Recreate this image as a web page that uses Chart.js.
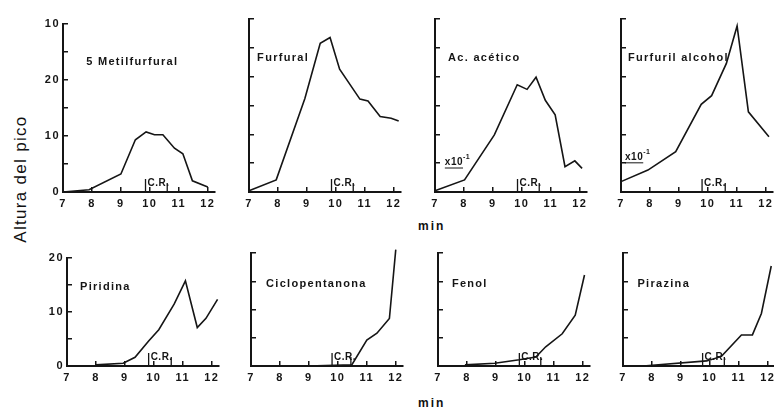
<!doctype html>
<html lang="es">
<head>
<meta charset="utf-8">
<title>Altura del pico</title>
<script src="https://cdn.jsdelivr.net/npm/chart.js"></script>
<style>
  html, body { margin: 0; padding: 0; background: #fff; overflow: hidden; }
  body { width: 774px; height: 412px; position: relative; font-family: "Liberation Sans", Arial, sans-serif; color: #111; }
  .panel { position: absolute; }
  .ytitle { position: absolute; left: -59px; top: 169px; width: 160px; text-align: center;
            font-size: 17px; letter-spacing: 1.3px; transform: rotate(-90deg); white-space: nowrap; }
  .min { position: absolute; font-weight: bold; font-size: 12px; letter-spacing: 2px; }
</style>
</head>
<body>
<div class="ytitle">Altura del pico</div>
<div class="min" style="left:418px; top:219px">min</div>
<div class="min" style="left:418px; top:396px">min</div>

<script>
// ticks
const xTicks = [7, 8, 9, 10, 11, 12];
const yTicksTop = [0, 5, 10, 15, 20, 25, 30];
const yLabelsTop = ['0', '', '10', '', '20', '', '10'];   // top label printed as "10" in the original
const yTicksBottom = [0, 5, 10, 15, 20];
const yLabelsBottom = ['0', '', '10', '', '20'];

// datos (min, altura)
const metilT = [7, 7.9, 9.0, 9.5, 9.87, 10.16, 10.45, 10.85, 11.14, 11.47, 12.0];
const metilV = [0, 0.4, 3.2, 9.3, 10.7, 10.2, 10.2, 7.8, 6.8, 2.0, 0.9];

const furfuralT = [7, 7.94, 8.93, 9.46, 9.8, 10.13, 10.83, 11.11, 11.53, 11.91, 12.17];
const furfuralV = [0.2, 2.1, 16.2, 25.8, 26.8, 21.3, 16.1, 15.8, 13.1, 12.8, 12.3];

const aceticoT = [7, 8.02, 9.05, 9.84, 10.18, 10.49, 10.81, 11.15, 11.49, 11.83, 12.08];
const aceticoV = [0.2, 2.1, 9.9, 18.6, 17.8, 19.9, 15.9, 13.4, 4.4, 5.4, 4.1];

const alcoholT = [7, 7.93, 8.89, 9.77, 10.13, 10.64, 11.01, 11.4, 12.11];
const alcoholV = [1.8, 3.8, 7.0, 15.2, 16.7, 22.3, 28.8, 13.9, 9.6];

const piridinaT = [8.0, 8.94, 9.35, 9.82, 10.17, 10.7, 11.09, 11.5, 11.8, 12.2];
const piridinaV = [0.2, 0.5, 1.6, 4.6, 6.7, 11.4, 15.7, 7.1, 8.8, 12.3];

const cicloT = [9.27, 10.48, 11.0, 11.35, 11.78, 12.0];
const cicloV = [0.05, 0.2, 4.6, 5.8, 8.4, 20.6];

const fenolT = [7.93, 8.96, 9.81, 10.38, 10.72, 11.29, 11.74, 12.06];
const fenolV = [0.2, 0.5, 1.1, 1.6, 3.4, 5.7, 9.0, 16.1];

const pirazinaT = [7.7, 9.89, 10.4, 11.09, 11.47, 11.78, 12.12];
const pirazinaV = [0, 0.9, 1.7, 5.5, 5.5, 9.3, 17.7];

const ink = '#151515';

const panels = [
  { name: '5 Metilfurfural', t: metilT, v: metilV, label: [7.8, 23.2], cr: [9.85, 10.6] },
  { name: 'Furfural', t: furfuralT, v: furfuralV, label: [7.28, 23.2], cr: [9.85, 10.6] },
  { name: 'Ac. acético', t: aceticoT, v: aceticoV, label: [7.45, 23.2], cr: [9.85, 10.6], exp: [7.34, 5.2] },
  { name: 'Furfuril alcohol', t: alcoholT, v: alcoholV, label: [7.24, 23.2], cr: [9.8, 10.6], exp: [7.14, 6.1] },
  { name: 'Piridina', t: piridinaT, v: piridinaV, label: [7.45, 14.5], cr: [9.82, 10.6] },
  { name: 'Ciclopentanona', t: cicloT, v: cicloV, label: [7.52, 14.5], cr: [9.8, 10.45] },
  { name: 'Fenol', t: fenolT, v: fenolV, label: [7.48, 14.5], cr: [9.81, 10.55] },
  { name: 'Pirazina', t: pirazinaT, v: pirazinaV, label: [7.5, 14.5], cr: [9.75, 10.5] }
];

// layout: y axis pixel and plot top for each row
const axisX = [[63, 249, 435, 621], [67, 251, 438, 623]];
const plotTop = [19, 253];
const plotH = [173, 113];
const yAxisW = 40, plotW = 152, padR = 10, padT = 10, xAxisH = 22;

function notesPlugin(p) {
  return {
    id: 'notes',
    beforeDraw(chart) { chart.ctx.letterSpacing = '1.5px'; },
    afterDatasetsDraw(chart) {
      const { ctx } = chart;
      const x = chart.scales.x, y = chart.scales.y;
      ctx.save();
      ctx.fillStyle = ink;
      ctx.strokeStyle = ink;
      ctx.textBaseline = 'middle';
      ctx.textAlign = 'left';
      ctx.letterSpacing = '1.3px';
      ctx.font = 'bold 11px "Liberation Sans", Arial, sans-serif';
      ctx.fillText(p.name, x.getPixelForValue(p.label[0]), y.getPixelForValue(p.label[1]));

      // C.R. marks
      const y0 = y.getPixelForValue(0);
      const a = x.getPixelForValue(p.cr[0]), b = x.getPixelForValue(p.cr[1]);
      ctx.lineWidth = 1.3;
      ctx.beginPath();
      ctx.moveTo(a, y0); ctx.lineTo(a, y0 - 13);
      ctx.moveTo(b, y0); ctx.lineTo(b, y0 - 9);
      ctx.stroke();
      ctx.letterSpacing = '0.5px';
      ctx.font = 'bold 10px "Liberation Sans", Arial, sans-serif';
      ctx.fillText('C.R.', a + 2, y0 - 9);

      // x10^-1
      if (p.exp) {
        const ex = x.getPixelForValue(p.exp[0]), ey = y.getPixelForValue(p.exp[1]);
        ctx.font = 'bold 10px "Liberation Sans", Arial, sans-serif';
        ctx.fillText('x10', ex, ey);
        const w = ctx.measureText('x10').width;
        ctx.lineWidth = 1;
        ctx.beginPath(); ctx.moveTo(ex, ey + 6); ctx.lineTo(ex + w, ey + 6); ctx.stroke();
        ctx.font = 'bold 7px "Liberation Sans", Arial, sans-serif';
        ctx.fillText('-1', ex + w, ey - 5);
      }
      ctx.restore();
    }
  };
}

panels.forEach((p, i) => {
  const row = i < 4 ? 0 : 1;
  const col = i % 4;
  const yT = row === 0 ? yTicksTop : yTicksBottom;
  const yL = row === 0 ? yLabelsTop : yLabelsBottom;

  const div = document.createElement('div');
  div.className = 'panel';
  div.style.left = (axisX[row][col] - yAxisW) + 'px';
  div.style.top = (plotTop[row] - padT) + 'px';
  const cv = document.createElement('canvas');
  cv.width = yAxisW + plotW + padR;
  cv.height = padT + plotH[row] + xAxisH;
  div.appendChild(cv);
  document.body.appendChild(div);

  const tickFont = { family: '"Liberation Sans", Arial, sans-serif', weight: 'bold', size: 11 };

  new Chart(cv, {
    type: 'line',
    data: {
      datasets: [{
        data: p.t.map((t, k) => ({ x: t, y: p.v[k] })),
        borderColor: ink,
        borderWidth: 1.6,
        pointRadius: 0,
        tension: 0,
        clip: 8
      }]
    },
    options: {
      responsive: false,
      animation: false,
      layout: { padding: { top: padT, right: padR, left: 0, bottom: 0 } },
      plugins: { legend: { display: false }, tooltip: { enabled: false } },
      scales: {
        x: {
          type: 'linear',
          min: 7,
          max: 12.25,
          afterBuildTicks: s => { s.ticks = xTicks.map(v => ({ value: v })); },
          afterFit: s => { s.height = xAxisH; },
          border: { display: true, color: ink, width: 2 },
          grid: { display: true, drawOnChartArea: false, drawTicks: true, tickLength: -5, color: ink, lineWidth: 1.5 },
          ticks: { autoSkip: false, maxRotation: 0, padding: 10, color: ink, font: tickFont,
                   callback: v => String(v) }
        },
        y: {
          type: 'linear',
          min: 0,
          max: row === 0 ? 30 : 20,
          afterBuildTicks: s => { s.ticks = yT.map(v => ({ value: v })); },
          afterFit: s => { s.width = yAxisW; },
          border: { display: true, color: ink, width: 2 },
          grid: { display: true, drawOnChartArea: false, drawTicks: true, tickLength: -5, color: ink, lineWidth: 1.5 },
          ticks: { display: col === 0, autoSkip: false, padding: 8, color: ink, font: tickFont,
                   callback: v => { const k = yT.indexOf(v); return k >= 0 ? yL[k] : ''; } }
        }
      }
    },
    plugins: [notesPlugin(p)]
  });
});
</script>
</body>
</html>
